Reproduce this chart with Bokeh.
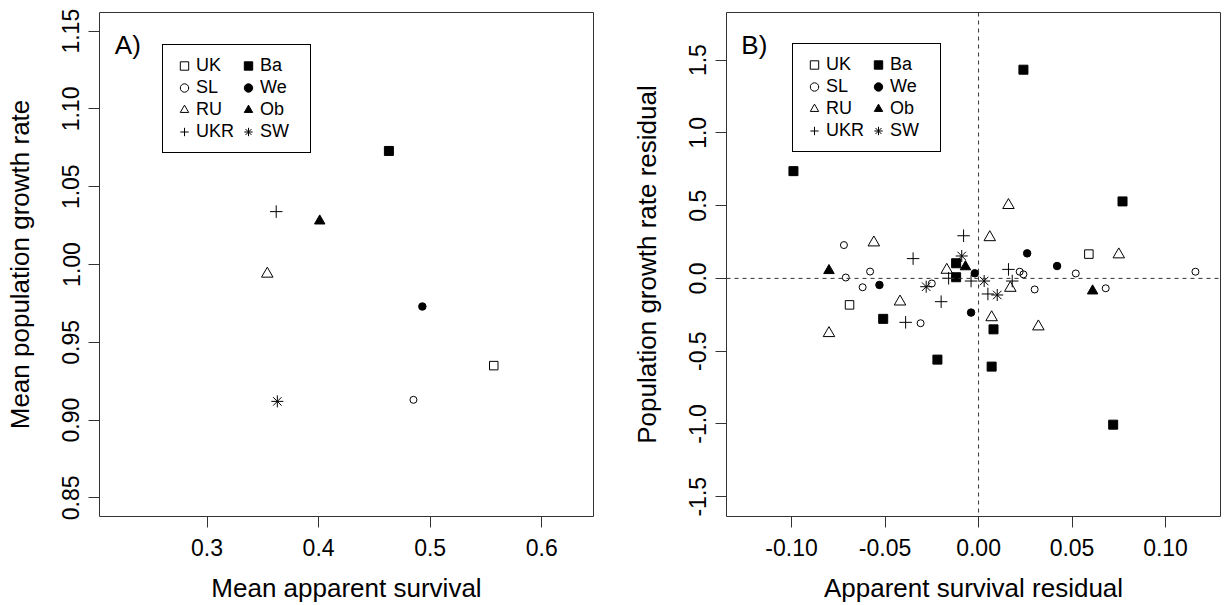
from bokeh.plotting import figure
from bokeh.models import Range1d, FixedTicker, PrintfTickFormatter, Legend, LegendItem, Span, Label
from bokeh.layouts import row
from bokeh.embed import file_html
from bokeh.resources import INLINE

FONT = "Liberation Sans"

groups = ["UK", "SL", "RU", "UKR", "Ba", "We", "Ob", "SW"]

# ---- Panel A: population means ----
mean_survival = [0.557, 0.485, 0.354, 0.362, 0.463, 0.493, 0.401, 0.363]
mean_growth = [0.935, 0.913, 0.994, 1.034, 1.073, 0.973, 1.028, 0.912]

# ---- Panel B: yearly residuals ----
surv_res_UK = [0.059, -0.069]
growth_res_UK = [0.167, -0.182]
surv_res_SL = [-0.072, -0.071, -0.058, -0.062, -0.031, -0.025, 0.022, 0.024, 0.030, 0.052, 0.068, 0.116]
growth_res_SL = [0.229, 0.006, 0.047, -0.061, -0.308, -0.035, 0.046, 0.028, -0.076, 0.034, -0.068, 0.046]
surv_res_RU = [-0.056, -0.042, -0.017, 0.006, 0.016, 0.007, 0.017, 0.032, 0.075, -0.080]
growth_res_RU = [0.246, -0.160, 0.058, 0.282, 0.503, -0.268, -0.066, -0.331, 0.164, -0.377]
surv_res_UKR = [-0.035, -0.016, -0.008, -0.004, 0.005, 0.016, 0.018, -0.020, -0.039]
growth_res_UKR = [0.136, 0.001, 0.293, -0.018, -0.107, 0.062, -0.018, -0.160, -0.302]
surv_res_Ba = [0.024, -0.099, 0.077, -0.012, -0.012, -0.051, 0.008, -0.022, 0.007, 0.072]
growth_res_Ba = [1.434, 0.737, 0.529, 0.104, 0.008, -0.278, -0.350, -0.558, -0.606, -1.005]
surv_res_We = [0.026, 0.042, -0.002, -0.053, -0.004]
growth_res_We = [0.172, 0.085, 0.035, -0.045, -0.235]
surv_res_Ob = [-0.080, -0.007, 0.061]
growth_res_Ob = [0.054, 0.080, -0.086]
surv_res_SW = [-0.009, 0.003, 0.010, -0.028]
growth_res_SW = [0.154, -0.018, -0.114, -0.057]

res_x = {"UK": surv_res_UK, "SL": surv_res_SL, "RU": surv_res_RU, "UKR": surv_res_UKR,
         "Ba": surv_res_Ba, "We": surv_res_We, "Ob": surv_res_Ob, "SW": surv_res_SW}
res_y = {"UK": growth_res_UK, "SL": growth_res_SL, "RU": growth_res_RU, "UKR": growth_res_UKR,
         "Ba": growth_res_Ba, "We": growth_res_We, "Ob": growth_res_Ob, "SW": growth_res_SW}

# marker styles (R pch 0,1,2,3,15,16,17,8)
style = {
    "UK": dict(marker="square", size=8.5, fill=False),
    "SL": dict(marker="circle", size=7, fill=False),
    "RU": dict(marker="triangle", size=11.5, fill=False),
    "UKR": dict(marker="cross", size=12.5, fill=False),
    "Ba": dict(marker="square", size=9, fill=True),
    "We": dict(marker="circle", size=7.5, fill=True),
    "Ob": dict(marker="triangle", size=10.5, fill=True),
    "SW": dict(marker="asterisk", size=12, fill=True),
}

H = 605
TOP = 12
BOTTOM = 88


def make_fig(width, bl, br, xr, yr, xticks, yticks, xfmt, yfmt, xlabel, ylabel):
    p = figure(width=width, height=H, x_range=Range1d(*xr), y_range=Range1d(*yr),
               output_backend="svg", toolbar_location=None,
               min_border_left=bl, min_border_right=br, min_border_top=TOP, min_border_bottom=BOTTOM)
    p.xgrid.visible = False
    p.ygrid.visible = False
    p.outline_line_color = "#333333"
    p.outline_line_width = 1
    p.outline_line_alpha = 1
    p.background_fill_color = "white"
    p.border_fill_color = "white"
    for ax in (p.xaxis[0], p.yaxis[0]):
        ax.axis_line_color = None
        ax.major_tick_line_color = "#333333"
        ax.major_tick_in = 0
        ax.major_tick_out = 11
        ax.minor_tick_line_color = None
        ax.major_label_text_font = FONT
        ax.major_label_text_font_size = "23px"
        ax.major_label_text_color = "black"
        ax.axis_label_text_font = FONT
        ax.axis_label_text_font_size = "26px"
        ax.axis_label_text_font_style = "normal"
        ax.axis_label_text_color = "black"
    p.xaxis[0].ticker = FixedTicker(ticks=xticks)
    p.yaxis[0].ticker = FixedTicker(ticks=yticks)
    p.xaxis[0].formatter = PrintfTickFormatter(format=xfmt)
    p.yaxis[0].formatter = PrintfTickFormatter(format=yfmt)
    p.xaxis[0].axis_label = xlabel
    p.yaxis[0].axis_label = ylabel
    p.xaxis[0].major_label_standoff = 11
    p.xaxis[0].axis_label_standoff = 14
    p.yaxis[0].major_label_orientation = "vertical"
    p.yaxis[0].major_label_standoff = 9
    p.yaxis[0].axis_label_standoff = 25
    return p


def add_points(p, xs_of, ys_of):
    rends = {}
    for g in groups:
        st = style[g]
        rends[g] = p.scatter(xs_of(g), ys_of(g), marker=st["marker"], size=st["size"],
                             line_color="black", line_width=1,
                             fill_color="black" if st["fill"] else None)
    return rends


def add_legend(p, rends, loc):
    items = [LegendItem(label=g, renderers=[rends[g]]) for g in groups]
    leg = Legend(items=items, ncols=2, location=loc,
                 label_text_font=FONT, label_text_font_size="18px", label_text_color="black",
                 border_line_color="black", border_line_width=1, border_line_alpha=1,
                 background_fill_color="white", background_fill_alpha=1,
                 padding=10, spacing=1, margin=0,
                 glyph_width=22, glyph_height=21, label_standoff=1,
                 label_width=40, label_height=20)
    p.add_layout(leg)


def add_tag(p, text, fx, fy):
    xr, yr = p.x_range, p.y_range
    x = xr.start + fx * (xr.end - xr.start)
    y = yr.end - fy * (yr.end - yr.start)
    p.add_layout(Label(x=x, y=y, text=text, text_font=FONT, text_font_size="26px",
                       text_color="black", text_align="left", text_baseline="alphabetic"))


# Panel A
pA = make_fig(600, 99, 7, (0.2036, 0.6464), (0.838, 1.162),
              [0.3, 0.4, 0.5, 0.6], [0.85, 0.90, 0.95, 1.00, 1.05, 1.10, 1.15],
              "%.1f", "%.2f", "Mean apparent survival", "Mean population growth rate")
idx = {g: i for i, g in enumerate(groups)}
rA = add_points(pA, lambda g: [mean_survival[idx[g]]], lambda g: [mean_growth[idx[g]]])
add_legend(pA, rA, (63, 363))
add_tag(pA, "A)", 0.031, 0.065)

# Panel B
pB = make_fig(624, 126, 4, (-0.1348, 0.1294), (-1.636, 1.827),
              [-0.10, -0.05, 0.0, 0.05, 0.10], [-1.5, -1.0, -0.5, 0.0, 0.5, 1.0, 1.5],
              "%.2f", "%.1f", "Apparent survival residual", "Population growth rate residual")
pB.add_layout(Span(location=0, dimension="width", line_dash="4 4", line_color="#333333", line_width=1))
pB.add_layout(Span(location=0, dimension="height", line_dash="4 4", line_color="#333333", line_width=1))
rB = add_points(pB, lambda g: res_x[g], lambda g: res_y[g])
add_legend(pB, rB, (66, 364))
add_tag(pB, "B)", 0.030, 0.065)

layout = row(pA, pB)
open("out.html", "w").write(file_html(layout, INLINE))
